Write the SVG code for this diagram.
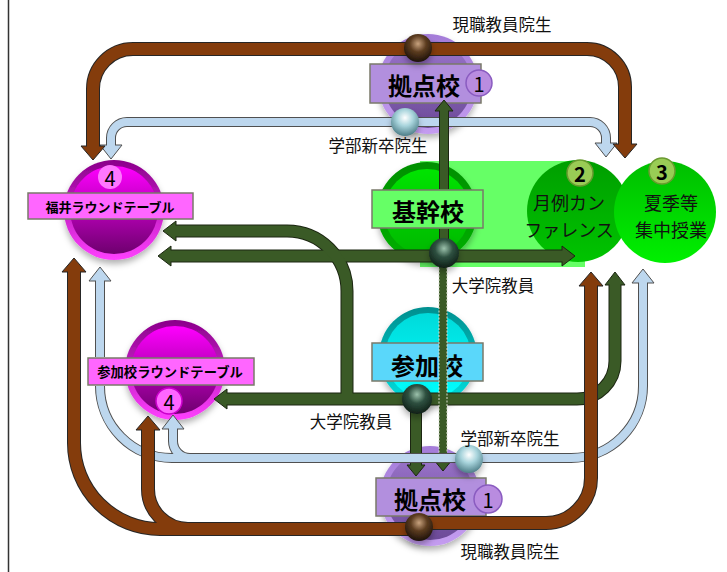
<svg xmlns="http://www.w3.org/2000/svg" xmlns:xlink="http://www.w3.org/1999/xlink" width="727" height="572" viewBox="0 0 727 572">
<defs>
<style>
text{font-family:"Noto Sans CJK JP","Noto Sans",sans-serif}
.lbl{font-weight:700;fill:#000;text-anchor:middle;dominant-baseline:central}
.big{font-size:24px}
.rt{font-size:13px}
.cap{font-size:16.5px;fill:#111;text-anchor:middle;dominant-baseline:central}
.txt{font-size:18px;fill:#111;text-anchor:middle;dominant-baseline:central}
.num{font-size:20px;fill:#000;text-anchor:middle;dominant-baseline:central}
.box{stroke:#7a7a6a;stroke-width:1.5}
.bo{fill:none;stroke:#262626;stroke-width:14}
.bi{fill:none;stroke:#843C0C;stroke-width:12}
.go{fill:none;stroke:#1c2612;stroke-width:13}
.gi{fill:none;stroke:#3A5A26;stroke-width:11}
.go2{fill:none;stroke:#1c2612;stroke-width:12}
.gi2{fill:none;stroke:#3A5A26;stroke-width:10}
.go3{fill:none;stroke:#1c2612;stroke-width:10}
.gi3{fill:none;stroke:#3A5A26;stroke-width:8}
.lo{fill:none;stroke:#505050;stroke-width:10}
.li{fill:none;stroke:#BDD7EE;stroke-width:8}
.hb{fill:#843C0C;stroke:#262626;stroke-width:1}
.hg{fill:#3A5A26;stroke:#1c2612;stroke-width:1}
.hl{fill:#BDD7EE;stroke:#505050;stroke-width:1}
</style>
<filter id="sh" x="-30%" y="-30%" width="160%" height="170%"><feDropShadow dx="0" dy="4" stdDeviation="3" flood-color="#000" flood-opacity="0.3"/></filter>
<linearGradient id="magRim" x1="0" y1="0" x2="0" y2="1"><stop offset="0" stop-color="#8A008A"/><stop offset="1" stop-color="#FF40FF"/></linearGradient>
<linearGradient id="mag" x1="0" y1="0" x2="0" y2="1"><stop offset="0" stop-color="#FF00FF"/><stop offset="1" stop-color="#6E006E"/></linearGradient>
<linearGradient id="purRim" x1="0" y1="0" x2="0" y2="1"><stop offset="0" stop-color="#A47CD8"/><stop offset="1" stop-color="#C49CF0"/></linearGradient>
<linearGradient id="pur" x1="0" y1="0" x2="0" y2="1"><stop offset="0" stop-color="#9C76CC"/><stop offset="1" stop-color="#6C4A98"/></linearGradient>
<linearGradient id="cyRim" x1="0" y1="0" x2="0" y2="1"><stop offset="0" stop-color="#008F8F"/><stop offset="1" stop-color="#00E0E0"/></linearGradient>
<linearGradient id="cy" x1="0" y1="0" x2="0" y2="1"><stop offset="0" stop-color="#00DADA"/><stop offset="1" stop-color="#00FFFF"/></linearGradient>
<linearGradient id="grRim" x1="0" y1="0" x2="0" y2="1"><stop offset="0" stop-color="#009000"/><stop offset="1" stop-color="#00B000"/></linearGradient>
<linearGradient id="gr" x1="0" y1="0" x2="0" y2="1"><stop offset="0" stop-color="#00E400"/><stop offset="1" stop-color="#00B800"/></linearGradient>
<linearGradient id="gr2" x1="0" y1="0" x2="0" y2="1"><stop offset="0" stop-color="#009E00"/><stop offset="1" stop-color="#00C400"/></linearGradient>
<linearGradient id="gr3" x1="0" y1="0" x2="0" y2="1"><stop offset="0" stop-color="#00BE00"/><stop offset="1" stop-color="#00F000"/></linearGradient>
<radialGradient id="ballB" cx="0.5" cy="0.35" r="0.65"><stop offset="0" stop-color="#C8A27E"/><stop offset="0.45" stop-color="#5C3C20"/><stop offset="1" stop-color="#1C1108"/></radialGradient>
<radialGradient id="ballL" cx="0.5" cy="0.35" r="0.65"><stop offset="0" stop-color="#FFFFFF"/><stop offset="0.45" stop-color="#A8D4DC"/><stop offset="1" stop-color="#4E7E88"/></radialGradient>
<radialGradient id="ballG" cx="0.5" cy="0.35" r="0.65"><stop offset="0" stop-color="#9CC2AC"/><stop offset="0.45" stop-color="#2E5040"/><stop offset="1" stop-color="#0E1E16"/></radialGradient>
<path id="hB" d="M0,0 L-12,-14 L12,-14 Z"/>
<path id="hG" d="M0,0 L-10,-13 L10,-13 Z"/>
<path id="hGs" d="M0,0 L-9,-11 L9,-11 Z"/>
<path id="hL" d="M0,0 L-11,-14 L11,-14 Z"/>
<path id="pB1" d="M418,49 H133 A40,40 0 0 0 93,89 V147"/>
<path id="pB2" d="M418,49 H587 A38,38 0 0 1 625,87 V145"/>
<path id="pB3" d="M419,529 H188 A40,40 0 0 1 148,489 V429"/>
<path id="pB4" d="M190,529 H160 A86,86 0 0 1 74,443 V271"/>
<path id="pB5" d="M419,523 H546 A45,45 0 0 0 591,478 V285"/>
<path id="pL1" d="M405,122 H127 A16,16 0 0 0 111,138 V146"/>
<path id="pL2" d="M405,122 H590 A16,16 0 0 1 606,138 V144"/>
<path id="pL3" d="M469,458 H571 A72,72 0 0 0 643,386 V282"/>
<path id="pL4" d="M469,458 H190 A17,17 0 0 1 173,441 V428"/>
<path id="pL5a" d="M195,458 H172 A72,72 0 0 1 100,386"/>
<path id="pL5b" d="M100,357 V280"/>
<path id="pG1" d="M444,256 H563"/>
<path id="pG2" d="M444,256 H170"/>
<path id="pG4" d="M417,399 H226"/>
<path id="pG5" d="M347,399 V291 A60,60 0 0 0 287,231 H175"/>
<path id="pG6" d="M417,399 H577 A38,38 0 0 0 615,361 V284"/>
<path id="pG7" d="M416,399 V466"/>
<path id="pG3a" d="M444,251 V229"/>
<path id="pG3b" d="M444,189 V110"/>
</defs>

<rect width="727" height="572" fill="#fff"/>
<line x1="8.5" y1="0" x2="8.5" y2="572" stroke="#333" stroke-width="1.5"/>

<g id="band">
<rect x="420" y="161" width="165" height="106" fill="#66FF66"/>
</g>

<g id="node-kyoten-top">
<g filter="url(#sh)"><circle cx="428" cy="84" r="50" fill="url(#purRim)"/><circle cx="428" cy="84" r="44" fill="url(#pur)"/></g>
<rect class="box" x="370" y="64" width="111" height="39" fill="#B28FDE"/>
<text class="lbl big" x="424" y="84">拠点校</text>
<circle cx="479" cy="83" r="13" fill="#B98CE0" stroke="#8A5CC0" stroke-width="1.5"/>
<text class="num" x="479" y="83">1</text>
</g>

<g id="node-kikan">
<g filter="url(#sh)"><circle cx="427" cy="212" r="50" fill="url(#grRim)"/><circle cx="427" cy="212" r="43" fill="url(#gr)"/></g>
<rect class="box" x="372" y="190" width="111" height="38" fill="#66FF66"/>
<text class="lbl big" x="428" y="210">基幹校</text>
</g>

<g id="node-getsurei">
<circle cx="578" cy="211" r="51" fill="url(#gr2)"/>
<circle cx="580" cy="173" r="13" fill="#99CC55" stroke="#6A9A30" stroke-width="1.5"/>
<text class="num" x="580" y="173" font-weight="700">2</text>
<text class="txt" x="569" y="202">月例カン</text>
<text class="txt" x="569" y="229">ファレンス</text>
</g>

<g id="node-kaki">
<circle cx="665" cy="212" r="51" fill="url(#gr3)"/>
<circle cx="662" cy="171" r="13" fill="#99CC55" stroke="#6A9A30" stroke-width="1.5"/>
<text class="num" x="662" y="171" font-weight="700">3</text>
<text class="txt" x="671" y="202">夏季等</text>
<text class="txt" x="671" y="229">集中授業</text>
</g>

<g id="node-sanka">
<g filter="url(#sh)"><circle cx="428" cy="356" r="49" fill="url(#cyRim)"/><circle cx="428" cy="356" r="43" fill="url(#cy)"/></g>
<rect class="box" x="372" y="343" width="111" height="38" fill="#5AD7FA"/>
<text class="lbl big" x="427" y="364">参加校</text>
</g>

<g id="node-kyoten-bottom">
<g filter="url(#sh)"><circle cx="430" cy="496" r="50" fill="url(#purRim)"/><circle cx="430" cy="496" r="44" fill="url(#pur)"/></g>
<rect class="box" x="376" y="478" width="110" height="38" fill="#B28FDE"/>
<text class="lbl big" x="430" y="498">拠点校</text>
<circle cx="488" cy="499" r="14" fill="#B98CE0" stroke="#8A5CC0" stroke-width="1.5"/>
<text class="num" x="488" y="499">1</text>
</g>

<g id="node-fukui-rt">
<g filter="url(#sh)"><circle cx="114" cy="210" r="50" fill="url(#magRim)"/><circle cx="114" cy="210" r="44" fill="url(#mag)"/></g>
<circle cx="110" cy="177" r="12" fill="#FF77FF"/>
<text class="num" x="110" y="177">4</text>
<rect class="box" x="28" y="193" width="165" height="26" fill="#FF66FF"/>
<text class="lbl rt" x="110" y="206">福井ラウンドテーブル</text>
</g>

<g id="node-sanka-rt">
<g filter="url(#sh)"><circle cx="175" cy="370" r="50" fill="url(#magRim)"/><circle cx="175" cy="370" r="44" fill="url(#mag)"/></g>
<rect class="box" x="88" y="358" width="166" height="27" fill="#FF66FF"/>
<text class="lbl rt" x="170" y="371" style="font-size:13.3px">参加校ラウンドテーブル</text>
<circle cx="169" cy="401" r="13" fill="#FF66FF" stroke="#CC00CC" stroke-width="1.5"/>
<text class="num" x="169" y="401">4</text>
</g>

<g id="connectors">
<use href="#pG1" class="go"/><use href="#pG2" class="go"/><use href="#pG4" class="go"/><use href="#pG5" class="go"/><use href="#pG6" class="go"/><use href="#pG7" class="go2"/>
<use href="#hG" class="hg" transform="translate(575,256) rotate(-90)"/>
<use href="#hG" class="hg" transform="translate(158,256) rotate(90)"/>
<use href="#hG" class="hg" transform="translate(214,399) rotate(90)"/>
<use href="#hG" class="hg" transform="translate(163,231) rotate(90)"/>
<use href="#hG" class="hg" transform="translate(615,272) rotate(180)"/>
<use href="#hGs" class="hg" transform="translate(416,476)"/>
<use href="#hGs" class="hg" transform="translate(443,471)"/>
<use href="#pG1" class="gi"/><use href="#pG2" class="gi"/><use href="#pG4" class="gi"/><use href="#pG5" class="gi"/><use href="#pG6" class="gi"/><use href="#pG7" class="gi2"/>
<rect x="439" y="265" width="8" height="196" fill="#3A5A26" stroke="#D8DCCC" stroke-width="1" stroke-dasharray="2,1.5"/>

<use href="#pL1" class="lo"/><use href="#pL2" class="lo"/><use href="#pL3" class="lo"/><use href="#pL4" class="lo"/><use href="#pL5a" class="lo"/><use href="#pL5b" class="lo"/>
<use href="#hL" class="hl" transform="translate(111,159)"/>
<use href="#hL" class="hl" transform="translate(606,157)"/>
<use href="#hL" class="hl" transform="translate(643,269) rotate(180)"/>
<use href="#hL" class="hl" transform="translate(173,415) rotate(180)"/>
<use href="#hL" class="hl" transform="translate(100,267) rotate(180)"/>
<use href="#pL1" class="li"/><use href="#pL2" class="li"/><use href="#pL3" class="li"/><use href="#pL4" class="li"/><use href="#pL5a" class="li"/><use href="#pL5b" class="li"/>

<use href="#pB1" class="bo"/><use href="#pB2" class="bo"/><use href="#pB3" class="bo"/><use href="#pB4" class="bo"/><use href="#pB5" class="bo"/>
<use href="#hB" class="hb" transform="translate(93,160)"/>
<use href="#hB" class="hb" transform="translate(625,158)"/>
<use href="#hB" class="hb" transform="translate(148,416) rotate(180)"/>
<use href="#hB" class="hb" transform="translate(74,258) rotate(180)"/>
<use href="#hB" class="hb" transform="translate(591,272) rotate(180)"/>
<use href="#pB1" class="bi"/><use href="#pB2" class="bi"/><use href="#pB3" class="bi"/><use href="#pB4" class="bi"/><use href="#pB5" class="bi"/>

<use href="#pG3a" class="go3"/><use href="#pG3b" class="go3"/>
<use href="#hGs" class="hg" transform="translate(444,100) rotate(180)"/>
<use href="#pG3a" class="gi3"/><use href="#pG3b" class="gi3"/>

<g filter="url(#sh)">
<circle cx="418" cy="48" r="14" fill="url(#ballB)"/>
<circle cx="405" cy="122" r="14" fill="url(#ballL)"/>
<circle cx="444" cy="253" r="15" fill="url(#ballG)"/>
<circle cx="417" cy="399" r="15" fill="url(#ballG)"/>
<circle cx="469" cy="459" r="14" fill="url(#ballL)"/>
<circle cx="419" cy="527" r="14" fill="url(#ballB)"/>
</g>

<text class="cap" x="502" y="24">現職教員院生</text>
<text class="cap" x="378" y="145">学部新卒院生</text>
<text class="cap" x="493" y="285">大学院教員</text>
<text class="cap" x="351" y="421">大学院教員</text>
<text class="cap" x="510" y="438">学部新卒院生</text>
<text class="cap" x="510" y="551">現職教員院生</text>
</g>
</svg>
